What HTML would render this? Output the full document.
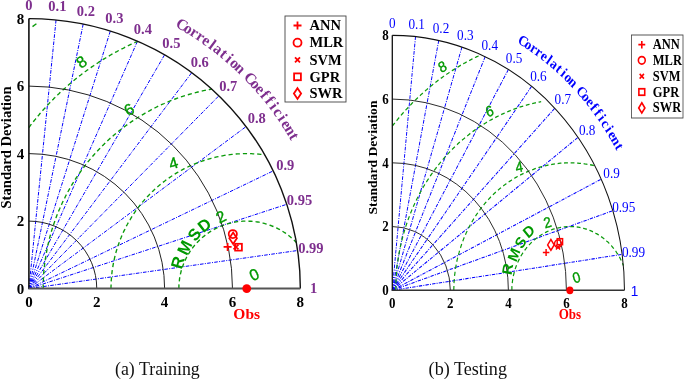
<!DOCTYPE html>
<html><head><meta charset="utf-8"><title>Taylor diagrams</title>
<style>html,body{margin:0;padding:0;background:#fff}svg{display:block;will-change:transform}</style></head>
<body>
<svg width="685" height="379" viewBox="0 0 685 379">
<rect width="685" height="379" fill="#fff"/>
<g transform="translate(28.9 0) scale(1.0 1) translate(-28.9 0)">
<line x1="28.90" y1="288.60" x2="56.04" y2="19.95" stroke="#0000ff" stroke-width="1" stroke-dasharray="3.6 1.3 1 1.3"/>
<line x1="28.90" y1="288.60" x2="83.19" y2="24.06" stroke="#0000ff" stroke-width="1" stroke-dasharray="3.6 1.3 1 1.3"/>
<line x1="28.90" y1="288.60" x2="110.33" y2="31.04" stroke="#0000ff" stroke-width="1" stroke-dasharray="3.6 1.3 1 1.3"/>
<line x1="28.90" y1="288.60" x2="137.48" y2="41.14" stroke="#0000ff" stroke-width="1" stroke-dasharray="3.6 1.3 1 1.3"/>
<line x1="28.90" y1="288.60" x2="164.62" y2="54.77" stroke="#0000ff" stroke-width="1" stroke-dasharray="3.6 1.3 1 1.3"/>
<line x1="28.90" y1="288.60" x2="191.76" y2="72.60" stroke="#0000ff" stroke-width="1" stroke-dasharray="3.6 1.3 1 1.3"/>
<line x1="28.90" y1="288.60" x2="218.91" y2="95.78" stroke="#0000ff" stroke-width="1" stroke-dasharray="3.6 1.3 1 1.3"/>
<line x1="28.90" y1="288.60" x2="246.05" y2="126.60" stroke="#0000ff" stroke-width="1" stroke-dasharray="3.6 1.3 1 1.3"/>
<line x1="28.90" y1="288.60" x2="273.20" y2="170.91" stroke="#0000ff" stroke-width="1" stroke-dasharray="3.6 1.3 1 1.3"/>
<line x1="28.90" y1="288.60" x2="286.77" y2="204.29" stroke="#0000ff" stroke-width="1" stroke-dasharray="3.6 1.3 1 1.3"/>
<line x1="28.90" y1="288.60" x2="297.63" y2="250.51" stroke="#0000ff" stroke-width="1" stroke-dasharray="3.6 1.3 1 1.3"/>
<polyline points="178.9,288.6 178.9,287.3 178.9,285.9 179.0,284.6 179.1,283.2 179.2,281.9 179.4,280.5 179.5,279.2 179.7,277.9 180.0,276.6 180.2,275.2 180.5,273.9 180.8,272.6 181.1,271.3 181.5,270.0 181.9,268.7 182.3,267.4 182.7,266.2 183.2,264.9 183.7,263.6 184.2,262.4 184.7,261.2 185.3,259.9 185.9,258.7 186.5,257.5 187.1,256.3 187.8,255.2 188.5,254.0 189.2,252.9 189.9,251.7 190.6,250.6 191.4,249.5 192.2,248.4 193.0,247.3 193.9,246.3 194.7,245.2 195.6,244.2 196.5,243.2 197.4,242.2 198.4,241.3 199.3,240.3 200.3,239.4 201.3,238.5 202.3,237.6 203.3,236.7 204.4,235.9 205.4,235.0 206.5,234.2 207.6,233.4 208.7,232.7 209.9,231.9 211.0,231.2 212.2,230.5 213.3,229.8 214.5,229.2 215.7,228.6 216.9,228.0 218.1,227.4 219.4,226.8 220.6,226.3 221.9,225.8 223.1,225.3 224.4,224.9 225.7,224.4 227.0,224.0 228.3,223.6 229.6,223.3 230.9,223.0 232.2,222.7 233.5,222.4 234.9,222.1 236.2,221.9 237.5,221.7 238.9,221.6 240.2,221.4 241.6,221.3 242.9,221.2 244.3,221.1 245.6,221.1 247.0,221.1 248.3,221.1 249.7,221.2 251.0,221.2 252.4,221.3 253.7,221.5 255.1,221.6 256.4,221.8 257.7,222.0 259.1,222.2 260.4,222.5 261.7,222.8 263.0,223.1 264.3,223.4 265.6,223.8 266.9,224.2 268.2,224.6 269.5,225.0 270.8,225.5 272.0,226.0 273.3,226.5 274.5,227.0 275.7,227.6 277.0,228.2 278.2,228.8 279.4,229.4 280.5,230.1 281.7,230.8 282.9,231.5 284.0,232.2 285.1,232.9 286.2,233.7 287.3,234.5 288.4,235.3 289.5,236.2 290.5,237.0 291.5,237.9 292.5,238.8 293.5,239.7 294.5,240.6 295.4,241.6 296.4,242.6" fill="none" stroke="#0a9a0a" stroke-width="1.35" stroke-dasharray="4.2 3"/>
<polyline points="111.0,288.6 111.0,286.7 111.1,284.8 111.1,282.9 111.2,280.9 111.4,279.0 111.5,277.1 111.7,275.2 111.9,273.3 112.1,271.4 112.4,269.5 112.7,267.6 113.0,265.7 113.3,263.8 113.7,261.9 114.1,260.1 114.5,258.2 114.9,256.3 115.4,254.5 115.9,252.6 116.4,250.8 117.0,249.0 117.6,247.1 118.2,245.3 118.8,243.5 119.5,241.7 120.1,239.9 120.9,238.1 121.6,236.3 122.3,234.6 123.1,232.8 123.9,231.1 124.8,229.4 125.6,227.7 126.5,225.9 127.4,224.3 128.3,222.6 129.3,220.9 130.3,219.3 131.3,217.6 132.3,216.0 133.4,214.4 134.4,212.8 135.5,211.2 136.6,209.7 137.8,208.1 138.9,206.6 140.1,205.1 141.3,203.6 142.5,202.1 143.8,200.6 145.0,199.2 146.3,197.8 147.6,196.4 149.0,195.0 150.3,193.6 151.7,192.2 153.1,190.9 154.5,189.6 155.9,188.3 157.3,187.0 158.8,185.8 160.3,184.5 161.8,183.3 163.3,182.1 164.8,181.0 166.3,179.8 167.9,178.7 169.5,177.6 171.1,176.5 172.7,175.5 174.3,174.4 175.9,173.4 177.6,172.4 179.2,171.5 180.9,170.5 182.6,169.6 184.3,168.7 186.0,167.9 187.8,167.0 189.5,166.2 191.3,165.4 193.0,164.6 194.8,163.9 196.6,163.2 198.4,162.5 200.2,161.8 202.0,161.1 203.8,160.5 205.6,159.9 207.5,159.4 209.3,158.8 211.2,158.3 213.1,157.8 214.9,157.4 216.8,156.9 218.7,156.5 220.6,156.1 222.5,155.8 224.4,155.4 226.3,155.1 228.2,154.9 230.1,154.6 232.0,154.4 233.9,154.2 235.8,154.0 237.7,153.9 239.7,153.8 241.6,153.7 243.5,153.6 245.4,153.6 247.4,153.6 249.3,153.6 251.2,153.7 253.1,153.8 255.1,153.9 257.0,154.0 258.9,154.1 260.8,154.3 262.7,154.5 264.7,154.8" fill="none" stroke="#0a9a0a" stroke-width="1.35" stroke-dasharray="4.2 3"/>
<polyline points="43.2,288.6 43.2,286.2 43.2,283.9 43.3,281.5 43.4,279.2 43.5,276.8 43.6,274.5 43.8,272.1 44.0,269.7 44.3,267.4 44.5,265.1 44.8,262.7 45.1,260.4 45.5,258.0 45.9,255.7 46.3,253.4 46.7,251.1 47.1,248.7 47.6,246.4 48.1,244.1 48.7,241.8 49.2,239.5 49.8,237.3 50.4,235.0 51.1,232.7 51.7,230.4 52.4,228.2 53.1,225.9 53.9,223.7 54.7,221.5 55.5,219.2 56.3,217.0 57.1,214.8 58.0,212.6 58.9,210.5 59.9,208.3 60.8,206.1 61.8,204.0 62.8,201.8 63.8,199.7 64.9,197.6 65.9,195.5 67.1,193.4 68.2,191.3 69.3,189.3 70.5,187.2 71.7,185.2 72.9,183.2 74.2,181.1 75.4,179.2 76.7,177.2 78.1,175.2 79.4,173.3 80.8,171.3 82.1,169.4 83.6,167.5 85.0,165.6 86.4,163.8 87.9,161.9 89.4,160.1 90.9,158.3 92.5,156.5 94.0,154.7 95.6,152.9 97.2,151.2 98.8,149.5 100.5,147.8 102.1,146.1 103.8,144.4 105.5,142.8 107.2,141.1 108.9,139.5 110.7,137.9 112.5,136.4 114.3,134.8 116.1,133.3 117.9,131.8 119.8,130.3 121.6,128.9 123.5,127.4 125.4,126.0 127.3,124.6 129.2,123.2 131.2,121.9 133.1,120.6 135.1,119.2 137.1,118.0 139.1,116.7 141.1,115.5 143.2,114.3 145.2,113.1 147.3,111.9 149.4,110.8 151.5,109.6 153.6,108.6 155.7,107.5 157.8,106.4 159.9,105.4 162.1,104.4 164.3,103.5 166.4,102.5 168.6,101.6 170.8,100.7 173.0,99.8 175.2,99.0 177.5,98.2 179.7,97.4 181.9,96.6 184.2,95.9 186.5,95.2 188.7,94.5 191.0,93.8 193.3,93.2 195.6,92.6 197.9,92.0 200.2,91.5 202.5,90.9 204.8,90.4 207.1,90.0 209.5,89.5 211.8,89.1" fill="none" stroke="#0a9a0a" stroke-width="1.35" stroke-dasharray="4.2 3"/>
<polyline points="28.9,127.5 29.6,126.6 30.3,125.6 31.0,124.7 31.7,123.8 32.5,122.9 33.2,121.9 33.9,121.0 34.6,120.1 35.4,119.2 36.1,118.3 36.8,117.4 37.6,116.5 38.3,115.6 39.1,114.7 39.8,113.8 40.6,112.9 41.4,112.0 42.1,111.2 42.9,110.3 43.7,109.4 44.5,108.5 45.3,107.7 46.0,106.8 46.8,105.9 47.6,105.1 48.4,104.2 49.2,103.4 50.0,102.5 50.9,101.7 51.7,100.8 52.5,100.0 53.3,99.2 54.1,98.3 55.0,97.5 55.8,96.7 56.6,95.9 57.5,95.1 58.3,94.2 59.2,93.4 60.0,92.6 60.9,91.8 61.7,91.0 62.6,90.2 63.4,89.5 64.3,88.7 65.2,87.9 66.0,87.1 66.9,86.3 67.8,85.6 68.7,84.8 69.6,84.0 70.5,83.3 71.4,82.5 72.3,81.8 73.2,81.0 74.1,80.3 75.0,79.5 75.9,78.8 76.8,78.1 77.7,77.3 78.6,76.6 79.5,75.9 80.5,75.2 81.4,74.5 82.3,73.8 83.3,73.0 84.2,72.3 85.1,71.6 86.1,71.0 87.0,70.3 88.0,69.6 88.9,68.9 89.9,68.2 90.9,67.6 91.8,66.9 92.8,66.2 93.8,65.6 94.7,64.9 95.7,64.3 96.7,63.6 97.7,63.0 98.6,62.3 99.6,61.7 100.6,61.1 101.6,60.4 102.6,59.8 103.6,59.2 104.6,58.6 105.6,58.0 106.6,57.4 107.6,56.8 108.6,56.2 109.6,55.6 110.6,55.0 111.6,54.4 112.7,53.8 113.7,53.3 114.7,52.7 115.7,52.1 116.8,51.6 117.8,51.0 118.8,50.5 119.9,49.9 120.9,49.4 121.9,48.8 123.0,48.3 124.0,47.8 125.1,47.2 126.1,46.7 127.2,46.2 128.2,45.7 129.3,45.2 130.3,44.7 131.4,44.2 132.5,43.7 133.5,43.2 134.6,42.7 135.7,42.2 136.7,41.8 137.8,41.3" fill="none" stroke="#0a9a0a" stroke-width="1.35" stroke-dasharray="4.2 3"/>
<path d="M96.76,288.60 A67.86,67.50 0 0 0 28.90,221.10" fill="none" stroke="#222" stroke-width="1"/>
<path d="M164.62,288.60 A135.72,135.00 0 0 0 28.90,153.60" fill="none" stroke="#222" stroke-width="1"/>
<path d="M232.48,288.60 A203.58,202.50 0 0 0 28.90,86.10" fill="none" stroke="#222" stroke-width="1"/>
<path d="M300.34,288.60 A271.44,270.00 0 0 0 28.90,18.60" fill="none" stroke="#111" stroke-width="1.4"/>
<line x1="28.90" y1="289.10" x2="28.90" y2="18.60" stroke="#111" stroke-width="1.6"/>
<line x1="28.40" y1="288.60" x2="300.34" y2="288.60" stroke="#555" stroke-width="2"/>
<text x="28.90" y="307.40" font-family="'Liberation Serif',serif" font-weight="bold" font-size="15" text-anchor="middle" fill="#000">0</text>
<text x="24.30" y="293.55" font-family="'Liberation Serif',serif" font-weight="bold" font-size="15" text-anchor="end" fill="#000">0</text>
<text x="96.76" y="307.40" font-family="'Liberation Serif',serif" font-weight="bold" font-size="15" text-anchor="middle" fill="#000">2</text>
<text x="24.30" y="226.05" font-family="'Liberation Serif',serif" font-weight="bold" font-size="15" text-anchor="end" fill="#000">2</text>
<text x="164.62" y="307.40" font-family="'Liberation Serif',serif" font-weight="bold" font-size="15" text-anchor="middle" fill="#000">4</text>
<text x="24.30" y="158.55" font-family="'Liberation Serif',serif" font-weight="bold" font-size="15" text-anchor="end" fill="#000">4</text>
<text x="232.48" y="307.40" font-family="'Liberation Serif',serif" font-weight="bold" font-size="15" text-anchor="middle" fill="#000">6</text>
<text x="24.30" y="91.05" font-family="'Liberation Serif',serif" font-weight="bold" font-size="15" text-anchor="end" fill="#000">6</text>
<text x="300.34" y="307.40" font-family="'Liberation Serif',serif" font-weight="bold" font-size="15" text-anchor="middle" fill="#000">8</text>
<text x="24.30" y="23.55" font-family="'Liberation Serif',serif" font-weight="bold" font-size="15" text-anchor="end" fill="#000">8</text>
<text transform="translate(11.30,147.5) rotate(-90)" font-family="'Liberation Serif',serif" font-weight="bold" font-size="15" text-anchor="middle" fill="#000" textLength="122" lengthAdjust="spacingAndGlyphs">Standard Deviation</text>
<text x="28.90" y="10.05" font-family="'Liberation Serif',serif" font-weight="bold" font-size="14.5" text-anchor="middle" fill="#7e2f8e">0</text>
<text x="57.38" y="11.47" font-family="'Liberation Serif',serif" font-weight="bold" font-size="14.5" text-anchor="middle" fill="#7e2f8e">0.1</text>
<text x="85.87" y="15.78" font-family="'Liberation Serif',serif" font-weight="bold" font-size="14.5" text-anchor="middle" fill="#7e2f8e">0.2</text>
<text x="114.35" y="23.10" font-family="'Liberation Serif',serif" font-weight="bold" font-size="14.5" text-anchor="middle" fill="#7e2f8e">0.3</text>
<text x="142.84" y="33.71" font-family="'Liberation Serif',serif" font-weight="bold" font-size="14.5" text-anchor="middle" fill="#7e2f8e">0.4</text>
<text x="171.32" y="48.01" font-family="'Liberation Serif',serif" font-weight="bold" font-size="14.5" text-anchor="middle" fill="#7e2f8e">0.5</text>
<text x="199.81" y="66.72" font-family="'Liberation Serif',serif" font-weight="bold" font-size="14.5" text-anchor="middle" fill="#7e2f8e">0.6</text>
<text x="228.29" y="91.05" font-family="'Liberation Serif',serif" font-weight="bold" font-size="14.5" text-anchor="middle" fill="#7e2f8e">0.7</text>
<text x="256.77" y="123.39" font-family="'Liberation Serif',serif" font-weight="bold" font-size="14.5" text-anchor="middle" fill="#7e2f8e">0.8</text>
<text x="285.26" y="169.88" font-family="'Liberation Serif',serif" font-weight="bold" font-size="14.5" text-anchor="middle" fill="#7e2f8e">0.9</text>
<text x="299.50" y="204.91" font-family="'Liberation Serif',serif" font-weight="bold" font-size="14.5" text-anchor="middle" fill="#7e2f8e">0.95</text>
<text x="310.89" y="253.42" font-family="'Liberation Serif',serif" font-weight="bold" font-size="14.5" text-anchor="middle" fill="#7e2f8e">0.99</text>
<text x="313.74" y="293.39" font-family="'Liberation Serif',serif" font-weight="bold" font-size="14.5" text-anchor="middle" fill="#7e2f8e">1</text>
<text transform="translate(179.55,29.05) rotate(30.00)" font-family="'Liberation Serif',serif" font-weight="bold" font-size="15.5" text-anchor="middle" fill="#7e2f8e">C</text>
<text transform="translate(185.72,32.69) rotate(31.36)" font-family="'Liberation Serif',serif" font-weight="bold" font-size="15.5" text-anchor="middle" fill="#7e2f8e">o</text>
<text transform="translate(191.79,36.48) rotate(32.73)" font-family="'Liberation Serif',serif" font-weight="bold" font-size="15.5" text-anchor="middle" fill="#7e2f8e">r</text>
<text transform="translate(197.78,40.40) rotate(34.09)" font-family="'Liberation Serif',serif" font-weight="bold" font-size="15.5" text-anchor="middle" fill="#7e2f8e">r</text>
<text transform="translate(203.67,44.47) rotate(35.45)" font-family="'Liberation Serif',serif" font-weight="bold" font-size="15.5" text-anchor="middle" fill="#7e2f8e">e</text>
<text transform="translate(209.46,48.68) rotate(36.82)" font-family="'Liberation Serif',serif" font-weight="bold" font-size="15.5" text-anchor="middle" fill="#7e2f8e">l</text>
<text transform="translate(215.15,53.02) rotate(38.18)" font-family="'Liberation Serif',serif" font-weight="bold" font-size="15.5" text-anchor="middle" fill="#7e2f8e">a</text>
<text transform="translate(220.73,57.50) rotate(39.55)" font-family="'Liberation Serif',serif" font-weight="bold" font-size="15.5" text-anchor="middle" fill="#7e2f8e">t</text>
<text transform="translate(226.21,62.10) rotate(40.91)" font-family="'Liberation Serif',serif" font-weight="bold" font-size="15.5" text-anchor="middle" fill="#7e2f8e">i</text>
<text transform="translate(231.57,66.84) rotate(42.27)" font-family="'Liberation Serif',serif" font-weight="bold" font-size="15.5" text-anchor="middle" fill="#7e2f8e">o</text>
<text transform="translate(236.82,71.70) rotate(43.64)" font-family="'Liberation Serif',serif" font-weight="bold" font-size="15.5" text-anchor="middle" fill="#7e2f8e">n</text>
<text transform="translate(246.96,81.78) rotate(46.36)" font-family="'Liberation Serif',serif" font-weight="bold" font-size="15.5" text-anchor="middle" fill="#7e2f8e">C</text>
<text transform="translate(251.85,87.00) rotate(47.73)" font-family="'Liberation Serif',serif" font-weight="bold" font-size="15.5" text-anchor="middle" fill="#7e2f8e">o</text>
<text transform="translate(256.61,92.34) rotate(49.09)" font-family="'Liberation Serif',serif" font-weight="bold" font-size="15.5" text-anchor="middle" fill="#7e2f8e">e</text>
<text transform="translate(261.24,97.78) rotate(50.45)" font-family="'Liberation Serif',serif" font-weight="bold" font-size="15.5" text-anchor="middle" fill="#7e2f8e">f</text>
<text transform="translate(265.74,103.34) rotate(51.82)" font-family="'Liberation Serif',serif" font-weight="bold" font-size="15.5" text-anchor="middle" fill="#7e2f8e">f</text>
<text transform="translate(270.10,109.00) rotate(53.18)" font-family="'Liberation Serif',serif" font-weight="bold" font-size="15.5" text-anchor="middle" fill="#7e2f8e">i</text>
<text transform="translate(274.33,114.76) rotate(54.55)" font-family="'Liberation Serif',serif" font-weight="bold" font-size="15.5" text-anchor="middle" fill="#7e2f8e">c</text>
<text transform="translate(278.42,120.62) rotate(55.91)" font-family="'Liberation Serif',serif" font-weight="bold" font-size="15.5" text-anchor="middle" fill="#7e2f8e">i</text>
<text transform="translate(282.37,126.57) rotate(57.27)" font-family="'Liberation Serif',serif" font-weight="bold" font-size="15.5" text-anchor="middle" fill="#7e2f8e">e</text>
<text transform="translate(286.17,132.62) rotate(58.64)" font-family="'Liberation Serif',serif" font-weight="bold" font-size="15.5" text-anchor="middle" fill="#7e2f8e">n</text>
<text transform="translate(289.83,138.75) rotate(60.00)" font-family="'Liberation Serif',serif" font-weight="bold" font-size="15.5" text-anchor="middle" fill="#7e2f8e">t</text>
<text transform="translate(81.30,61.7) rotate(-35)" y="5.73" font-family="'Liberation Sans',sans-serif" font-size="16" text-anchor="middle" fill="#009900" stroke="#009900" stroke-width="0.35">8</text>
<text transform="translate(129.00,109.2) rotate(-30)" y="5.73" font-family="'Liberation Sans',sans-serif" font-size="16" text-anchor="middle" fill="#009900" stroke="#009900" stroke-width="0.35">6</text>
<text transform="translate(173.40,163) rotate(-17)" y="5.73" font-family="'Liberation Sans',sans-serif" font-size="16" text-anchor="middle" fill="#009900" stroke="#009900" stroke-width="0.35">4</text>
<text transform="translate(220.80,216.7) rotate(-27)" y="5.73" font-family="'Liberation Sans',sans-serif" font-size="16" text-anchor="middle" fill="#009900" stroke="#009900" stroke-width="0.35">2</text>
<text transform="translate(254.20,274.3) rotate(-25)" y="5.73" font-family="'Liberation Sans',sans-serif" font-size="16" text-anchor="middle" fill="#009900" stroke="#009900" stroke-width="0.35">0</text>
<text transform="translate(177.40,262.3) rotate(-74)" y="5.91" font-family="'Liberation Sans',sans-serif" font-weight="bold" font-size="16.5" text-anchor="middle" fill="#009900">R</text>
<text transform="translate(184.40,247.5) rotate(-64)" y="5.91" font-family="'Liberation Sans',sans-serif" font-weight="bold" font-size="16.5" text-anchor="middle" fill="#009900">M</text>
<text transform="translate(194.30,234.2) rotate(-52)" y="5.91" font-family="'Liberation Sans',sans-serif" font-weight="bold" font-size="16.5" text-anchor="middle" fill="#009900">S</text>
<text transform="translate(204.30,224.8) rotate(-38)" y="5.91" font-family="'Liberation Sans',sans-serif" font-weight="bold" font-size="16.5" text-anchor="middle" fill="#009900">D</text>
<circle cx="246.73" cy="288.60" r="4.4" fill="#ff0000"/>
<text x="246.73" y="318.60" font-family="'Liberation Serif',serif" font-weight="bold" font-size="15.5" text-anchor="middle" fill="#ff0000">Obs</text>
<circle cx="232.80" cy="234.10" r="4.10" stroke="#ff0000" stroke-width="1.75" fill="none"/>
<path d="M233.10,232.46L236.92,238.20L233.10,243.94L229.28,238.20Z" stroke="#ff0000" stroke-width="1.75" fill="none"/>
<path d="M223.60,246.90H231.60M227.60,242.90V250.90" stroke="#ff0000" stroke-width="1.75" fill="none"/>
<path d="M233.52,244.52L238.48,249.48M233.52,249.48L238.48,244.52" stroke="#ff0000" stroke-width="1.75" fill="none"/>
<rect x="235.10" y="243.80" width="6.80" height="6.80" stroke="#ff0000" stroke-width="1.75" fill="none"/>
<rect x="285.00" y="16" width="61.00" height="86" fill="#fff" stroke="#444" stroke-width="0.9"/>
<path d="M293.50,25.50H301.50M297.50,21.50V29.50" stroke="#ff0000" stroke-width="1.8" fill="none"/>
<text x="309.50" y="30.29" font-family="'Liberation Serif',serif" font-weight="bold" font-size="14.5" fill="#000">ANN</text>
<circle cx="297.50" cy="42.70" r="4.00" stroke="#ff0000" stroke-width="1.8" fill="none"/>
<text x="309.50" y="47.48" font-family="'Liberation Serif',serif" font-weight="bold" font-size="14.5" fill="#000">MLR</text>
<path d="M295.02,57.32L299.98,62.28M295.02,62.28L299.98,57.32" stroke="#ff0000" stroke-width="1.8" fill="none"/>
<text x="309.50" y="64.58" font-family="'Liberation Serif',serif" font-weight="bold" font-size="14.5" fill="#000">SVM</text>
<rect x="294.10" y="73.40" width="6.80" height="6.80" stroke="#ff0000" stroke-width="1.8" fill="none"/>
<text x="309.50" y="81.58" font-family="'Liberation Serif',serif" font-weight="bold" font-size="14.5" fill="#000">GPR</text>
<path d="M297.50,88.20L301.10,93.60L297.50,99.00L293.90,93.60Z" stroke="#ff0000" stroke-width="1.8" fill="none"/>
<text x="309.50" y="98.38" font-family="'Liberation Serif',serif" font-weight="bold" font-size="14.5" fill="#000">SWR</text>
</g>
<g transform="translate(392.3 0) scale(0.906 1) translate(-392.3 0)">
<line x1="392.30" y1="290.30" x2="417.92" y2="36.62" stroke="#0000ff" stroke-width="1.05" stroke-dasharray="3.7 1.3 1.1 1.3"/>
<line x1="392.30" y1="290.30" x2="443.55" y2="40.49" stroke="#0000ff" stroke-width="1.05" stroke-dasharray="3.7 1.3 1.1 1.3"/>
<line x1="392.30" y1="290.30" x2="469.17" y2="47.08" stroke="#0000ff" stroke-width="1.05" stroke-dasharray="3.7 1.3 1.1 1.3"/>
<line x1="392.30" y1="290.30" x2="494.80" y2="56.63" stroke="#0000ff" stroke-width="1.05" stroke-dasharray="3.7 1.3 1.1 1.3"/>
<line x1="392.30" y1="290.30" x2="520.42" y2="69.50" stroke="#0000ff" stroke-width="1.05" stroke-dasharray="3.7 1.3 1.1 1.3"/>
<line x1="392.30" y1="290.30" x2="546.05" y2="86.33" stroke="#0000ff" stroke-width="1.05" stroke-dasharray="3.7 1.3 1.1 1.3"/>
<line x1="392.30" y1="290.30" x2="571.67" y2="108.22" stroke="#0000ff" stroke-width="1.05" stroke-dasharray="3.7 1.3 1.1 1.3"/>
<line x1="392.30" y1="290.30" x2="597.30" y2="137.32" stroke="#0000ff" stroke-width="1.05" stroke-dasharray="3.7 1.3 1.1 1.3"/>
<line x1="392.30" y1="290.30" x2="622.92" y2="179.17" stroke="#0000ff" stroke-width="1.05" stroke-dasharray="3.7 1.3 1.1 1.3"/>
<line x1="392.30" y1="290.30" x2="635.73" y2="210.69" stroke="#0000ff" stroke-width="1.05" stroke-dasharray="3.7 1.3 1.1 1.3"/>
<line x1="392.30" y1="290.30" x2="645.98" y2="254.33" stroke="#0000ff" stroke-width="1.05" stroke-dasharray="3.7 1.3 1.1 1.3"/>
<polyline points="524.3,290.3 524.3,288.8 524.3,287.4 524.4,285.9 524.5,284.5 524.7,283.0 524.9,281.6 525.1,280.2 525.3,278.7 525.6,277.3 525.9,275.9 526.3,274.5 526.7,273.0 527.1,271.6 527.5,270.3 528.0,268.9 528.5,267.5 529.0,266.2 529.6,264.8 530.2,263.5 530.8,262.2 531.5,260.9 532.2,259.6 532.9,258.3 533.7,257.1 534.4,255.8 535.2,254.6 536.1,253.4 536.9,252.3 537.8,251.1 538.7,250.0 539.7,248.8 540.6,247.7 541.6,246.7 542.6,245.6 543.7,244.6 544.7,243.6 545.8,242.6 546.9,241.7 548.1,240.7 549.2,239.8 550.4,239.0 551.6,238.1 552.8,237.3 554.0,236.5 555.2,235.7 556.5,235.0 557.8,234.3 559.1,233.6 560.4,232.9 561.7,232.3 563.0,231.7 564.4,231.2 565.8,230.6 567.1,230.1 568.5,229.7 569.9,229.2 571.3,228.8 572.7,228.5 574.2,228.1 575.6,227.8 577.0,227.6 578.5,227.3 579.9,227.1 581.4,226.9 582.8,226.8 584.3,226.7 585.8,226.6 587.2,226.6 588.7,226.6 590.1,226.6 591.6,226.6 593.1,226.7 594.5,226.9 596.0,227.0 597.4,227.2 598.9,227.4 600.3,227.7 601.8,228.0 603.2,228.3 604.6,228.7 606.0,229.0 607.4,229.5 608.8,229.9 610.2,230.4 611.6,230.9 612.9,231.4 614.3,232.0 615.6,232.6 616.9,233.3 618.2,233.9 619.5,234.6 620.8,235.3 622.0,236.1 623.3,236.9 624.5,237.7 625.7,238.5 626.9,239.4 628.0,240.3 629.1,241.2 630.3,242.1 631.4,243.1 632.4,244.1 633.5,245.1 634.5,246.1 635.5,247.2 636.5,248.3 637.4,249.4 638.4,250.5 639.3,251.6 640.1,252.8 641.0,254.0 641.8,255.2 642.6,256.4 643.4,257.7 644.1,258.9 644.8,260.2 645.5,261.5 646.1,262.8 646.7,264.1 647.3,265.5" fill="none" stroke="#0a9a0a" stroke-width="1.3" stroke-dasharray="4.2 3"/>
<polyline points="460.2,290.3 460.2,288.4 460.3,286.5 460.3,284.6 460.4,282.7 460.6,280.8 460.7,278.9 460.9,277.0 461.1,275.1 461.4,273.3 461.6,271.4 461.9,269.5 462.2,267.6 462.6,265.8 463.0,263.9 463.4,262.0 463.8,260.2 464.3,258.4 464.8,256.5 465.3,254.7 465.9,252.9 466.4,251.1 467.0,249.3 467.7,247.5 468.3,245.7 469.0,243.9 469.7,242.1 470.4,240.4 471.2,238.6 472.0,236.9 472.8,235.2 473.6,233.5 474.5,231.8 475.4,230.1 476.3,228.4 477.2,226.8 478.2,225.2 479.2,223.5 480.2,221.9 481.2,220.3 482.3,218.7 483.4,217.2 484.5,215.6 485.6,214.1 486.8,212.6 487.9,211.1 489.1,209.6 490.4,208.2 491.6,206.7 492.9,205.3 494.1,203.9 495.4,202.5 496.8,201.1 498.1,199.8 499.5,198.4 500.9,197.1 502.3,195.9 503.7,194.6 505.1,193.3 506.6,192.1 508.1,190.9 509.6,189.7 511.1,188.6 512.6,187.5 514.2,186.3 515.7,185.3 517.3,184.2 518.9,183.2 520.5,182.1 522.2,181.1 523.8,180.2 525.5,179.2 527.1,178.3 528.8,177.4 530.5,176.5 532.2,175.7 533.9,174.9 535.7,174.1 537.4,173.3 539.2,172.6 540.9,171.9 542.7,171.2 544.5,170.5 546.3,169.9 548.1,169.3 549.9,168.7 551.8,168.1 553.6,167.6 555.4,167.1 557.3,166.6 559.1,166.2 561.0,165.8 562.9,165.4 564.7,165.0 566.6,164.7 568.5,164.4 570.4,164.1 572.3,163.8 574.2,163.6 576.1,163.4 578.0,163.2 579.9,163.1 581.8,163.0 583.7,162.9 585.6,162.8 587.5,162.8 589.4,162.8 591.3,162.9 593.2,162.9 595.1,163.0 597.0,163.1 599.0,163.3 600.9,163.4 602.8,163.6 604.6,163.9 606.5,164.1 608.4,164.4 610.3,164.7 612.2,165.0 614.1,165.4 615.9,165.8" fill="none" stroke="#0a9a0a" stroke-width="1.3" stroke-dasharray="4.2 3"/>
<polyline points="396.1,290.3 396.2,288.1 396.2,285.8 396.3,283.6 396.4,281.3 396.5,279.1 396.6,276.9 396.8,274.6 397.0,272.4 397.2,270.2 397.5,268.0 397.7,265.7 398.0,263.5 398.4,261.3 398.7,259.1 399.1,256.9 399.5,254.7 399.9,252.5 400.4,250.3 400.9,248.1 401.4,245.9 401.9,243.8 402.5,241.6 403.1,239.4 403.7,237.3 404.3,235.1 405.0,233.0 405.7,230.9 406.4,228.7 407.1,226.6 407.9,224.5 408.7,222.4 409.5,220.3 410.3,218.2 411.2,216.2 412.1,214.1 413.0,212.1 413.9,210.0 414.9,208.0 415.8,206.0 416.8,204.0 417.9,202.0 418.9,200.0 420.0,198.0 421.1,196.1 422.2,194.1 423.3,192.2 424.5,190.3 425.7,188.4 426.9,186.5 428.1,184.6 429.4,182.8 430.7,180.9 432.0,179.1 433.3,177.3 434.6,175.5 436.0,173.7 437.4,171.9 438.8,170.2 440.2,168.5 441.6,166.7 443.1,165.0 444.6,163.4 446.1,161.7 447.6,160.1 449.2,158.4 450.7,156.8 452.3,155.2 453.9,153.6 455.5,152.1 457.2,150.5 458.8,149.0 460.5,147.5 462.2,146.0 463.9,144.6 465.6,143.1 467.3,141.7 469.1,140.3 470.9,139.0 472.7,137.6 474.5,136.3 476.3,134.9 478.1,133.6 480.0,132.4 481.8,131.1 483.7,129.9 485.6,128.7 487.5,127.5 489.4,126.3 491.4,125.2 493.3,124.1 495.3,123.0 497.3,121.9 499.3,120.9 501.3,119.8 503.3,118.8 505.3,117.9 507.3,116.9 509.4,116.0 511.4,115.1 513.5,114.2 515.6,113.3 517.7,112.5 519.8,111.7 521.9,110.9 524.0,110.1 526.1,109.4 528.2,108.7 530.4,108.0 532.5,107.3 534.7,106.7 536.8,106.1 539.0,105.5 541.2,104.9 543.4,104.4 545.6,103.9 547.8,103.4 550.0,102.9 552.2,102.5 554.4,102.1 556.6,101.7" fill="none" stroke="#0a9a0a" stroke-width="1.3" stroke-dasharray="4.2 3"/>
<polyline points="392.3,126.1 393.0,125.3 393.6,124.5 394.3,123.8 395.0,123.0 395.6,122.2 396.3,121.5 397.0,120.7 397.7,120.0 398.3,119.2 399.0,118.5 399.7,117.7 400.4,117.0 401.1,116.2 401.8,115.5 402.5,114.7 403.2,114.0 403.9,113.3 404.6,112.5 405.4,111.8 406.1,111.1 406.8,110.4 407.5,109.6 408.2,108.9 409.0,108.2 409.7,107.5 410.4,106.8 411.2,106.1 411.9,105.4 412.7,104.7 413.4,104.0 414.1,103.3 414.9,102.6 415.7,101.9 416.4,101.2 417.2,100.6 417.9,99.9 418.7,99.2 419.5,98.5 420.2,97.9 421.0,97.2 421.8,96.5 422.6,95.9 423.3,95.2 424.1,94.6 424.9,93.9 425.7,93.3 426.5,92.6 427.3,92.0 428.1,91.4 428.9,90.7 429.7,90.1 430.5,89.5 431.3,88.8 432.1,88.2 432.9,87.6 433.7,87.0 434.5,86.4 435.4,85.8 436.2,85.2 437.0,84.6 437.8,84.0 438.7,83.4 439.5,82.8 440.3,82.2 441.1,81.6 442.0,81.0 442.8,80.4 443.7,79.9 444.5,79.3 445.4,78.7 446.2,78.1 447.1,77.6 447.9,77.0 448.8,76.5 449.6,75.9 450.5,75.4 451.4,74.8 452.2,74.3 453.1,73.7 454.0,73.2 454.8,72.7 455.7,72.1 456.6,71.6 457.4,71.1 458.3,70.6 459.2,70.1 460.1,69.6 461.0,69.1 461.9,68.6 462.8,68.1 463.6,67.6 464.5,67.1 465.4,66.6 466.3,66.1 467.2,65.6 468.1,65.1 469.0,64.7 469.9,64.2 470.9,63.7 471.8,63.2 472.7,62.8 473.6,62.3 474.5,61.9 475.4,61.4 476.3,61.0 477.3,60.5 478.2,60.1 479.1,59.7 480.0,59.2 481.0,58.8 481.9,58.4 482.8,58.0 483.7,57.5 484.7,57.1 485.6,56.7 486.6,56.3 487.5,55.9 488.4,55.5 489.4,55.1 490.3,54.7" fill="none" stroke="#0a9a0a" stroke-width="1.3" stroke-dasharray="4.2 3"/>
<path d="M456.36,290.30 A64.06,63.74 0 0 0 392.30,226.56" fill="none" stroke="#222" stroke-width="1.0"/>
<path d="M520.42,290.30 A128.12,127.48 0 0 0 392.30,162.82" fill="none" stroke="#222" stroke-width="1.0"/>
<path d="M584.49,290.30 A192.19,191.22 0 0 0 392.30,99.08" fill="none" stroke="#222" stroke-width="1.0"/>
<path d="M648.55,290.30 A256.25,254.96 0 0 0 392.30,35.34" fill="none" stroke="#111" stroke-width="1.1"/>
<line x1="392.30" y1="290.80" x2="392.30" y2="35.34" stroke="#111" stroke-width="1.45"/>
<line x1="391.80" y1="290.30" x2="648.55" y2="290.30" stroke="#333" stroke-width="1.5"/>
<text x="392.30" y="307.80" font-family="'Liberation Serif',serif" font-weight="bold" font-size="14.3" text-anchor="middle" fill="#000">0</text>
<text x="388.33" y="295.02" font-family="'Liberation Serif',serif" font-weight="bold" font-size="14.3" text-anchor="end" fill="#000">0</text>
<text x="456.36" y="307.80" font-family="'Liberation Serif',serif" font-weight="bold" font-size="14.3" text-anchor="middle" fill="#000">2</text>
<text x="388.33" y="231.28" font-family="'Liberation Serif',serif" font-weight="bold" font-size="14.3" text-anchor="end" fill="#000">2</text>
<text x="520.42" y="307.80" font-family="'Liberation Serif',serif" font-weight="bold" font-size="14.3" text-anchor="middle" fill="#000">4</text>
<text x="388.33" y="167.54" font-family="'Liberation Serif',serif" font-weight="bold" font-size="14.3" text-anchor="end" fill="#000">4</text>
<text x="584.49" y="307.80" font-family="'Liberation Serif',serif" font-weight="bold" font-size="14.3" text-anchor="middle" fill="#000">6</text>
<text x="388.33" y="103.80" font-family="'Liberation Serif',serif" font-weight="bold" font-size="14.3" text-anchor="end" fill="#000">6</text>
<text x="648.55" y="307.80" font-family="'Liberation Serif',serif" font-weight="bold" font-size="14.3" text-anchor="middle" fill="#000">8</text>
<text x="388.33" y="40.06" font-family="'Liberation Serif',serif" font-weight="bold" font-size="14.3" text-anchor="end" fill="#000">8</text>
<text transform="translate(375.19,157.5) rotate(-90)" font-family="'Liberation Serif',serif" font-weight="bold" font-size="14" text-anchor="middle" fill="#000" textLength="114" lengthAdjust="spacingAndGlyphs">Standard Deviation</text>
<text x="392.30" y="27.57" font-family="'Liberation Serif',serif" font-weight="normal" font-size="14.6" text-anchor="middle" fill="#0000ff">0</text>
<text x="419.19" y="28.91" font-family="'Liberation Serif',serif" font-weight="normal" font-size="14.6" text-anchor="middle" fill="#0000ff">0.1</text>
<text x="446.08" y="32.97" font-family="'Liberation Serif',serif" font-weight="normal" font-size="14.6" text-anchor="middle" fill="#0000ff">0.2</text>
<text x="472.97" y="39.89" font-family="'Liberation Serif',serif" font-weight="normal" font-size="14.6" text-anchor="middle" fill="#0000ff">0.3</text>
<text x="499.86" y="49.91" font-family="'Liberation Serif',serif" font-weight="normal" font-size="14.6" text-anchor="middle" fill="#0000ff">0.4</text>
<text x="526.75" y="63.41" font-family="'Liberation Serif',serif" font-weight="normal" font-size="14.6" text-anchor="middle" fill="#0000ff">0.5</text>
<text x="553.64" y="81.08" font-family="'Liberation Serif',serif" font-weight="normal" font-size="14.6" text-anchor="middle" fill="#0000ff">0.6</text>
<text x="580.53" y="104.05" font-family="'Liberation Serif',serif" font-weight="normal" font-size="14.6" text-anchor="middle" fill="#0000ff">0.7</text>
<text x="607.42" y="134.59" font-family="'Liberation Serif',serif" font-weight="normal" font-size="14.6" text-anchor="middle" fill="#0000ff">0.8</text>
<text x="634.31" y="178.50" font-family="'Liberation Serif',serif" font-weight="normal" font-size="14.6" text-anchor="middle" fill="#0000ff">0.9</text>
<text x="647.75" y="211.58" font-family="'Liberation Serif',serif" font-weight="normal" font-size="14.6" text-anchor="middle" fill="#0000ff">0.95</text>
<text x="658.51" y="257.38" font-family="'Liberation Serif',serif" font-weight="normal" font-size="14.6" text-anchor="middle" fill="#0000ff">0.99</text>
<text x="659.70" y="296.25" font-family="'Liberation Sans',sans-serif" font-weight="normal" font-size="15" text-anchor="middle" fill="#0000ff">1</text>
<text transform="translate(534.52,45.21) rotate(30.00)" font-family="'Liberation Serif',serif" font-weight="bold" font-size="14.6" text-anchor="middle" fill="#0000ff">C</text>
<text transform="translate(540.34,48.65) rotate(31.36)" font-family="'Liberation Serif',serif" font-weight="bold" font-size="14.6" text-anchor="middle" fill="#0000ff">o</text>
<text transform="translate(546.08,52.22) rotate(32.73)" font-family="'Liberation Serif',serif" font-weight="bold" font-size="14.6" text-anchor="middle" fill="#0000ff">r</text>
<text transform="translate(551.73,55.93) rotate(34.09)" font-family="'Liberation Serif',serif" font-weight="bold" font-size="14.6" text-anchor="middle" fill="#0000ff">r</text>
<text transform="translate(557.29,59.77) rotate(35.45)" font-family="'Liberation Serif',serif" font-weight="bold" font-size="14.6" text-anchor="middle" fill="#0000ff">e</text>
<text transform="translate(562.76,63.74) rotate(36.82)" font-family="'Liberation Serif',serif" font-weight="bold" font-size="14.6" text-anchor="middle" fill="#0000ff">l</text>
<text transform="translate(568.13,67.84) rotate(38.18)" font-family="'Liberation Serif',serif" font-weight="bold" font-size="14.6" text-anchor="middle" fill="#0000ff">a</text>
<text transform="translate(573.40,72.07) rotate(39.55)" font-family="'Liberation Serif',serif" font-weight="bold" font-size="14.6" text-anchor="middle" fill="#0000ff">t</text>
<text transform="translate(578.56,76.42) rotate(40.91)" font-family="'Liberation Serif',serif" font-weight="bold" font-size="14.6" text-anchor="middle" fill="#0000ff">i</text>
<text transform="translate(583.63,80.89) rotate(42.27)" font-family="'Liberation Serif',serif" font-weight="bold" font-size="14.6" text-anchor="middle" fill="#0000ff">o</text>
<text transform="translate(588.58,85.48) rotate(43.64)" font-family="'Liberation Serif',serif" font-weight="bold" font-size="14.6" text-anchor="middle" fill="#0000ff">n</text>
<text transform="translate(598.15,95.00) rotate(46.36)" font-family="'Liberation Serif',serif" font-weight="bold" font-size="14.6" text-anchor="middle" fill="#0000ff">C</text>
<text transform="translate(602.77,99.93) rotate(47.73)" font-family="'Liberation Serif',serif" font-weight="bold" font-size="14.6" text-anchor="middle" fill="#0000ff">o</text>
<text transform="translate(607.26,104.97) rotate(49.09)" font-family="'Liberation Serif',serif" font-weight="bold" font-size="14.6" text-anchor="middle" fill="#0000ff">e</text>
<text transform="translate(611.63,110.11) rotate(50.45)" font-family="'Liberation Serif',serif" font-weight="bold" font-size="14.6" text-anchor="middle" fill="#0000ff">f</text>
<text transform="translate(615.88,115.36) rotate(51.82)" font-family="'Liberation Serif',serif" font-weight="bold" font-size="14.6" text-anchor="middle" fill="#0000ff">f</text>
<text transform="translate(620.00,120.70) rotate(53.18)" font-family="'Liberation Serif',serif" font-weight="bold" font-size="14.6" text-anchor="middle" fill="#0000ff">i</text>
<text transform="translate(623.99,126.14) rotate(54.55)" font-family="'Liberation Serif',serif" font-weight="bold" font-size="14.6" text-anchor="middle" fill="#0000ff">c</text>
<text transform="translate(627.85,131.67) rotate(55.91)" font-family="'Liberation Serif',serif" font-weight="bold" font-size="14.6" text-anchor="middle" fill="#0000ff">i</text>
<text transform="translate(631.58,137.30) rotate(57.27)" font-family="'Liberation Serif',serif" font-weight="bold" font-size="14.6" text-anchor="middle" fill="#0000ff">e</text>
<text transform="translate(635.17,143.00) rotate(58.64)" font-family="'Liberation Serif',serif" font-weight="bold" font-size="14.6" text-anchor="middle" fill="#0000ff">n</text>
<text transform="translate(638.63,148.80) rotate(60.00)" font-family="'Liberation Serif',serif" font-weight="bold" font-size="14.6" text-anchor="middle" fill="#0000ff">t</text>
<text transform="translate(447.38,66.6) rotate(-28)" y="5.37" font-family="'Liberation Sans',sans-serif" font-size="15" text-anchor="middle" fill="#009900" stroke="#009900" stroke-width="0.35">8</text>
<text transform="translate(499.47,110.9) rotate(-22)" y="5.37" font-family="'Liberation Sans',sans-serif" font-size="15" text-anchor="middle" fill="#009900" stroke="#009900" stroke-width="0.35">6</text>
<text transform="translate(532.15,166.7) rotate(-10)" y="5.37" font-family="'Liberation Sans',sans-serif" font-size="15" text-anchor="middle" fill="#009900" stroke="#009900" stroke-width="0.35">4</text>
<text transform="translate(563.49,222.2) rotate(-15)" y="5.37" font-family="'Liberation Sans',sans-serif" font-size="15" text-anchor="middle" fill="#009900" stroke="#009900" stroke-width="0.35">2</text>
<text transform="translate(595.50,277.3) rotate(-20)" y="5.37" font-family="'Liberation Sans',sans-serif" font-size="15" text-anchor="middle" fill="#009900" stroke="#009900" stroke-width="0.35">0</text>
<text transform="translate(519.23,268.9) rotate(-80)" y="5.58" font-family="'Liberation Sans',sans-serif" font-weight="bold" font-size="15.6" text-anchor="middle" fill="#009900">R</text>
<text transform="translate(526.41,254.6) rotate(-68)" y="5.58" font-family="'Liberation Sans',sans-serif" font-weight="bold" font-size="15.6" text-anchor="middle" fill="#009900">M</text>
<text transform="translate(533.69,242.3) rotate(-56)" y="5.58" font-family="'Liberation Sans',sans-serif" font-weight="bold" font-size="15.6" text-anchor="middle" fill="#009900">S</text>
<text transform="translate(542.74,231.2) rotate(-42)" y="5.58" font-family="'Liberation Sans',sans-serif" font-weight="bold" font-size="15.6" text-anchor="middle" fill="#009900">D</text>
<circle cx="588.33" cy="290.30" r="3.9" fill="#ff0000"/>
<text x="588.33" y="318.60" font-family="'Liberation Serif',serif" font-weight="bold" font-size="14.4" text-anchor="middle" fill="#ff0000">Obs</text>
<path d="M558.46,252.50H565.66M562.06,248.90V256.10" stroke="#ff0000" stroke-width="1.6" fill="none"/>
<path d="M567.36,239.50L570.96,244.90L567.36,250.30L563.76,244.90Z" stroke="#ff0000" stroke-width="1.6" fill="none"/>
<circle cx="575.19" cy="243.80" r="3.80" stroke="#ff0000" stroke-width="1.6" fill="none"/>
<rect x="574.31" y="238.72" width="5.95" height="5.95" stroke="#ff0000" stroke-width="1.6" fill="none"/>
<path d="M572.90,244.91L577.49,249.49M572.90,249.49L577.49,244.91" stroke="#ff0000" stroke-width="1.6" fill="none"/>
<rect x="656.32" y="35" width="56.84" height="83" fill="#fff" stroke="#444" stroke-width="0.9"/>
<path d="M663.89,44.70H671.49M667.69,40.90V48.50" stroke="#ff0000" stroke-width="1.75" fill="none"/>
<text x="679.83" y="49.25" font-family="'Liberation Serif',serif" font-weight="bold" font-size="13.8" fill="#000">ANN</text>
<circle cx="667.69" cy="60.30" r="3.80" stroke="#ff0000" stroke-width="1.75" fill="none"/>
<text x="679.83" y="64.85" font-family="'Liberation Serif',serif" font-weight="bold" font-size="13.8" fill="#000">MLR</text>
<path d="M665.33,73.84L670.04,78.56M665.33,78.56L670.04,73.84" stroke="#ff0000" stroke-width="1.75" fill="none"/>
<text x="679.83" y="80.75" font-family="'Liberation Serif',serif" font-weight="bold" font-size="13.8" fill="#000">SVM</text>
<rect x="664.46" y="88.77" width="6.46" height="6.46" stroke="#ff0000" stroke-width="1.75" fill="none"/>
<text x="679.83" y="96.55" font-family="'Liberation Serif',serif" font-weight="bold" font-size="13.8" fill="#000">GPR</text>
<path d="M667.69,102.77L671.11,107.90L667.69,113.03L664.27,107.90Z" stroke="#ff0000" stroke-width="1.75" fill="none"/>
<text x="679.83" y="112.45" font-family="'Liberation Serif',serif" font-weight="bold" font-size="13.8" fill="#000">SWR</text>
</g>
<line x1="32.5" y1="26.6" x2="36.4" y2="23.7" stroke="#0a9a0a" stroke-width="1.35"/>
<text x="115" y="374.8" font-family="'Liberation Serif',serif" font-size="18.2" textLength="84.8" lengthAdjust="spacingAndGlyphs" fill="#111">(a) Training</text>
<text x="428.6" y="374.8" font-family="'Liberation Serif',serif" font-size="18.2" textLength="78.4" lengthAdjust="spacingAndGlyphs" fill="#111">(b) Testing</text>
</svg>
</body></html>
